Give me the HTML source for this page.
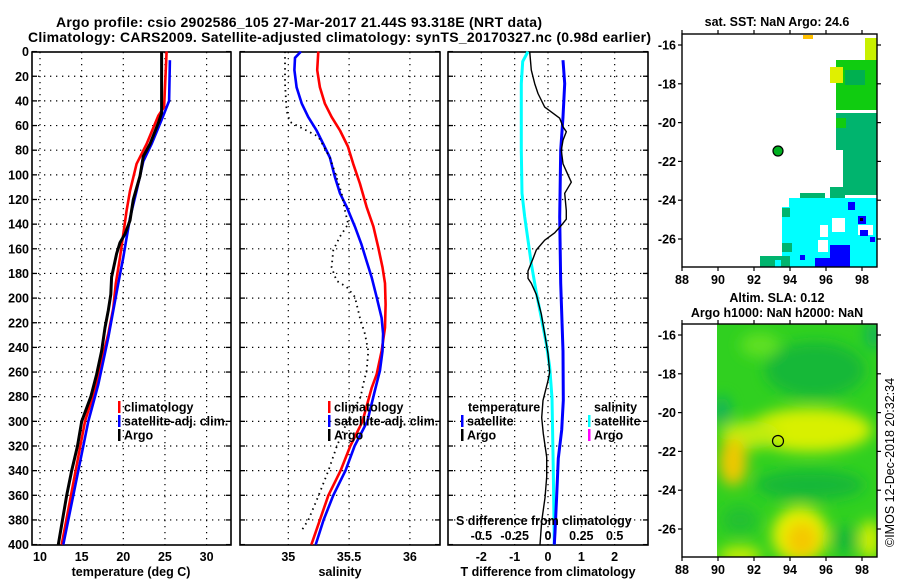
<!DOCTYPE html>
<html><head><meta charset="utf-8"><style>
html,body{margin:0;padding:0;background:#fff;}
svg{display:block;font-family:"Liberation Sans",sans-serif;font-weight:bold;}
</style></head><body>
<svg id="chart" width="900" height="580" viewBox="0 0 900 580" xmlns="http://www.w3.org/2000/svg">
<defs>
<clipPath id="clipMap2"><rect x="717" y="324" width="160" height="233"/></clipPath>
<filter id="blur" x="-20%" y="-20%" width="140%" height="140%"><feGaussianBlur stdDeviation="7"/></filter>
</defs>
<text x="56" y="27" font-size="14" textLength="486">Argo profile: csio 2902586_105 27-Mar-2017 21.44S 93.318E (NRT data)</text>
<text x="28" y="42" font-size="14" textLength="623">Climatology: CARS2009. Satellite-adjusted climatology: synTS_20170327.nc (0.98d earlier)</text>
<g id="panels"></g>
<g id="maps"></g>
</svg>
<script>
// ---- Panel 1: temperature ----
const depthsArgoT=[0,50,58,75,85,101,120,137,148,155,164,183,197,210,224,243,262,280,300,320,340,360,380,400];
const tempArgo=[24.6,24.6,24.2,23.2,22.4,22.0,21.2,20.8,20.2,19.6,19.2,18.6,18.5,18.2,17.8,17.4,16.8,16.1,15.0,14.5,13.8,13.2,12.7,12.2];
const depthsClimT=[0,45,52,75,91,113,129,148,167,188,208,229,251,270,300,350,400];
const tempClim=[25.2,24.9,24.2,22.8,21.6,20.8,20.4,20.0,19.6,19.1,18.8,18.2,17.4,16.8,15.4,14.0,12.6];
const depthsSatT=[7,40,52,75,89,113,135,151,167,188,210,232,251,270,300,350,400];
const tempSat=[25.6,25.5,24.8,23.4,22.4,21.6,20.8,20.4,20.0,19.4,18.8,18.2,17.6,17.0,15.8,14.3,12.8];
// ---- Panel 2: salinity ----
const depthsClimS=[0,15,29,42,53,64,77,91,107,126,142,159,175,188,205,224,243,262,273,300,320,340,360,380,400];
const salClim=[35.247,35.238,35.26,35.30,35.356,35.425,35.49,35.534,35.589,35.644,35.70,35.74,35.775,35.795,35.80,35.795,35.767,35.726,35.685,35.61,35.51,35.43,35.33,35.26,35.19];
const depthsSatS=[0,5,15,29,42,53,64,75,86,102,115,126,142,156,170,183,199,216,229,243,259,275,300,320,340,360,380,400];
const salSat=[35.104,35.055,35.05,35.068,35.11,35.164,35.233,35.288,35.342,35.384,35.425,35.48,35.548,35.60,35.644,35.685,35.726,35.767,35.78,35.775,35.753,35.712,35.65,35.545,35.47,35.37,35.29,35.225];
const depthsArgoS=[0,26,48,57,62,69,86,102,115,129,140,150,161,175,186,191,199,216,229,243,259,270,280,300,320,340,360,380,390];
const salArgo=[34.973,34.973,34.986,35.014,35.11,35.247,35.342,35.397,35.438,35.466,35.493,35.425,35.37,35.356,35.397,35.48,35.548,35.589,35.63,35.658,35.644,35.616,35.595,35.485,35.40,35.33,35.25,35.165,35.1];
// ---- Panel 3: differences ----
const depthsDTArgo=[0,15,26,34,45,54,61,65,72,80,91,106,115,129,136,141,147,153,161,168,178,184,188,197,213,229,245,260,267,283,297,310,329,345,362,381,400];
const dTArgo=[-0.55,-0.5,-0.4,-0.3,-0.1,0.35,0.45,0.55,0.45,0.4,0.45,0.7,0.5,0.55,0.55,0.4,0.2,-0.1,-0.35,-0.45,-0.6,-0.6,-0.5,-0.35,-0.2,-0.1,0,0.05,0,-0.15,-0.19,-0.14,-0.04,-0.04,-0.09,-0.19,-0.24];
const depthsDTSat=[7,26,53,80,134,188,243,283,307,330,360,390,400];
const dTSat=[0.45,0.5,0.45,0.38,0.35,0.38,0.45,0.46,0.41,0.31,0.26,0.21,0.19];
const depthsDSSat=[0,8,26,80,115,134,153,172,194,216,237,256,281,340,400];
const dSSat=[-0.15,-0.19,-0.2,-0.2,-0.195,-0.175,-0.15,-0.125,-0.09,-0.05,-0.0125,0.0125,0.03,0.04,0.047];
// ticks
const depthTicks=[0,20,40,60,80,100,120,140,160,180,200,220,240,260,280,300,320,340,360,380,400];
const tempTicks=[10,15,20,25,30];
const salTicks=[35,35.5,36];
const dTTicks=[-2,-1,0,1,2];
const dSTicks=[-0.5,-0.25,0,0.25,0.5];
const dSTickLabels=["-0.5","-0.25","0","0.25","0.5"];
const lonTicks=[88,90,92,94,96,98];
const latTicks=[-16,-18,-20,-22,-24,-26];

const NS="http://www.w3.org/2000/svg";
function mk(tag,attrs,parent,txt){const e=document.createElementNS(NS,tag);for(const k in attrs)e.setAttribute(k,attrs[k]);if(txt!==undefined)e.textContent=txt;parent.appendChild(e);return e;}
const yD=d=>51.6+d*1.2325;
const xT=t=>40+(t-10)*8.33;
const xS=s=>288.3+(s-35)*121.6;
const xDT=v=>548+v*33.33;
const xDS=v=>548+v*133.3;
const P=document.getElementById('panels');

const panels=[{x0:32,x1:231,name:'temperature-panel'},{x0:240,x1:440,name:'salinity-panel'},{x0:448,x1:648,name:'difference-panel'}];
const gridX=[tempTicks.map(xT),salTicks.map(xS),dTTicks.map(xDT)];
panels.forEach((p,i)=>{
  const g=mk('g',{},P);
  
  
  depthTicks.forEach(d=>{
    const y=yD(d);
    if(d>0&&d<400){
      const l=mk('line',{x1:p.x0,x2:p.x1,y1:y,y2:y,stroke:'#000','stroke-width':1.2,'stroke-dasharray':'1.3,4.7'},g);
      
      
    }
    mk('line',{x1:p.x0,x2:p.x0+5,y1:y,y2:y,stroke:'#000','stroke-width':1.3},g);
    mk('line',{x1:p.x1-5,x2:p.x1,y1:y,y2:y,stroke:'#000','stroke-width':1.3},g);
  });
  gridX[i].forEach(x=>{
    const l=mk('line',{x1:x,x2:x,y1:52,y2:545,stroke:'#000','stroke-width':1.2,'stroke-dasharray':'1.3,4.7'},g);
    
    
  });
  const r=mk('rect',{x:p.x0,y:52,width:p.x1-p.x0,height:493,fill:'none',stroke:'#000','stroke-width':1.6},g);
  
  
});
// y tick labels
depthTicks.forEach(d=>{
  const t=mk('text',{x:29,y:yD(d)+4.5,'font-size':12.5,'text-anchor':'end'},P,String(d));
  
  
});
function xlabels(ticks,f,labels){ticks.forEach((v,i)=>{
  const t=mk('text',{x:f(v),y:561,'font-size':12.5,'text-anchor':'middle'},P,labels?labels[i]:String(v));
  
  
});}
xlabels(tempTicks,xT);xlabels(salTicks,xS);xlabels(dTTicks,xDT);
[['temperature (deg C)',131,'temperature-axis-title'],['salinity',340,'salinity-axis-title'],['T difference from climatology',548,'t-difference-axis-title']].forEach(a=>{
  const t=mk('text',{x:a[1],y:576,'font-size':12.5,'text-anchor':'middle'},P,a[0]);
  
  
});
function line(ds,vs,fx,color,w,name,dash){
  const pts=ds.map((d,i)=>fx(vs[i]).toFixed(1)+','+yD(d).toFixed(1)).join(' ');
  const a={points:pts,fill:'none',stroke:color,'stroke-width':w,'stroke-linejoin':'round'};
  if(dash)a['stroke-dasharray']=dash;
  const e=mk('polyline',a,P);
  
  
}
line(depthsClimT,tempClim,xT,'#ff0000',2.6,'climatology-temperature-line');
line(depthsSatT,tempSat,xT,'#0000ff',2.6,'satellite-temperature-line');
line(depthsArgoT,tempArgo,xT,'#000000',3,'argo-temperature-line');
line(depthsClimS,salClim,xS,'#ff0000',2.6,'climatology-salinity-line');
line(depthsSatS,salSat,xS,'#0000ff',2.6,'satellite-salinity-line');
line(depthsArgoS,salArgo,xS,'#000000',1.8,'argo-salinity-line','1.5,4');
line(depthsDSSat,dSSat,xDS,'#00ffff',3,'satellite-salinity-difference-line');
line(depthsDTSat,dTSat,xDT,'#0000ff',3,'satellite-temperature-difference-line');
line(depthsDTArgo,dTArgo,xDT,'#000000',1.4,'argo-temperature-difference-line');
// S diff axis inside panel 3
const sl=mk('text',{x:456,y:525,'font-size':12.5},P,'S difference from climatology');


dSTicks.forEach((v,i)=>{
  const t=mk('text',{x:xDS(v),y:540,'font-size':12.5,'text-anchor':'middle'},P,dSTickLabels[i]);
  
  
});
// legends
function legend(x,y,color,label,name){
  const g=mk('g',{},P);
  
  
  if(color)mk('rect',{x:x,y:y-6,width:2.5,height:12,fill:color},g);
  mk('text',{x:x+6,y:y+4.5,'font-size':12.5},g,label);
}
[[118,'climatology-legend-entry'],[328,'climatology-legend-entry']].forEach(a=>{
  legend(a[0],407,'#ff0000','climatology',a[1]);
  legend(a[0],421,'#0000ff','satellite-adj. clim.','satellite-legend-entry');
  legend(a[0],435,'#000000','Argo','argo-legend-entry');
});
legend(462,407,null,'temperature','temperature-legend-title');
legend(461,421,'#0000ff','satellite','temperature-satellite-legend-entry');
legend(461,435,'#000000','Argo','temperature-argo-legend-entry');
legend(588,407,null,'salinity','salinity-legend-title');
legend(588,421,'#00ffff','satellite','salinity-satellite-legend-entry');
legend(588,435,'#ff00ff','Argo','salinity-argo-legend-entry');

// ---- Maps ----
const M=document.getElementById('maps');
const lonX=l=>682+(l-88)*18;
function latY(lat,top){return top+(-16-lat)*19.4;}
function mapFrame(top,bottom,lat16,name){
  const g=mk('g',{},M);
  
  
  mk('rect',{x:682,y:top,width:195,height:bottom-top,fill:'none',stroke:'#000','stroke-width':1.4},g);
  lonTicks.forEach(l=>{
    const x=lonX(l);
    mk('line',{x1:x,x2:x,y1:top,y2:top-4,stroke:'#000','stroke-width':1.2},g);
    mk('line',{x1:x,x2:x,y1:bottom,y2:bottom+4,stroke:'#000','stroke-width':1.2},g);
    mk('text',{x:x,y:bottom+17,'font-size':12.5,'text-anchor':'middle'},g,String(l));
  });
  latTicks.forEach(la=>{
    const y=latY(la,lat16);
    mk('line',{x1:682,x2:678,y1:y,y2:y,stroke:'#000','stroke-width':1.2},g);
    mk('line',{x1:877,x2:881,y1:y,y2:y,stroke:'#000','stroke-width':1.2},g);
    mk('text',{x:676,y:y+4.5,'font-size':12.5,'text-anchor':'end'},g,String(la));
  });
}
// map1 pixel blocks
const sstBlocks=[
 [803,35,10,4,'#ffc000'],[865,38,12,25,'#c8f000'],[836,60,41,50,'#10cc10'],[830,67,13,16,'#e0f000'],
 [845,70,20,15,'#00b050'],[836,100,10,10,'#10cc10'],
 [836,113,41,37,'#00b46e'],[836,118,10,10,'#10cc10'],[843,150,34,45,'#00b46e'],[830,187,15,13,'#00b46e'],
 [800,193,25,12,'#00b46e'],[789,198,88,69,'#00ffff'],[782,207,10,60,'#00ffff'],[782,208,8,9,'#00b46e'],
 [832,218,13,14,'#ffffff'],[820,225,8,12,'#ffffff'],[858,225,15,10,'#ffffff'],[818,240,10,12,'#ffffff'],
 [782,243,10,9,'#00b46e'],[760,256,30,11,'#00b46e'],[830,245,20,22,'#0000ff'],[815,258,15,9,'#0000ff'],
 [848,202,7,8,'#0000ff'],[858,216,8,8,'#0000ff'],[860,218,3,3,'#000000'],[800,255,5,5,'#0000ff'],[860,230,8,6,'#0000ff'],
 [870,237,5,5,'#0000ff'],[775,260,6,7,'#00ffff']
];
sstBlocks.forEach(b=>{
  const r=mk('rect',{x:b[0],y:b[1],width:b[2],height:b[3],fill:b[4]},M);
  
  
});
mapFrame(34,267,45,'sst-map');
const t1=mk('text',{x:777,y:26,'font-size':12.5,'text-anchor':'middle'},M,'sat. SST: NaN Argo: 24.6');


const d1=mk('circle',{cx:778,cy:151,r:5,fill:'#00b020',stroke:'#000','stroke-width':1.2},M);


// map2 smooth field
const g2=mk('g',{'clip-path':'url(#clipMap2)'},M);


mk('rect',{x:717,y:324,width:160,height:233,fill:'#30d020'},g2);
const fb=mk('g',{filter:'url(#blur)'},g2);
[
 ['ellipse',{cx:815,cy:370,rx:50,ry:28,fill:'#18b838'}],
 ['ellipse',{cx:760,cy:345,rx:20,ry:12,fill:'#60e020'}],
 ['ellipse',{cx:722,cy:410,rx:8,ry:14,fill:'#10b060'}],
 ['ellipse',{cx:874,cy:335,rx:8,ry:14,fill:'#10b060'}],
 ['ellipse',{cx:810,cy:430,rx:62,ry:22,fill:'#d8f000'}],
 ['ellipse',{cx:750,cy:435,rx:30,ry:14,fill:'#c0ec10'}],
 ['ellipse',{cx:733,cy:462,rx:14,ry:24,fill:'#f0c800'}],
 ['ellipse',{cx:810,cy:485,rx:55,ry:15,fill:'#18b838'}],
 ['ellipse',{cx:740,cy:520,rx:18,ry:14,fill:'#20c030'}],
 ['ellipse',{cx:800,cy:535,rx:28,ry:28,fill:'#e8f000'}],
 ['ellipse',{cx:802,cy:540,rx:16,ry:18,fill:'#f4c800'}],
 ['ellipse',{cx:740,cy:555,rx:22,ry:8,fill:'#d8f000'}],
 ['ellipse',{cx:870,cy:540,rx:10,ry:20,fill:'#d8f000'}],
 ['ellipse',{cx:845,cy:540,rx:12,ry:14,fill:'#18b838'}]
].forEach(s=>{const e=mk(s[0],s[1],fb);
  
  });
mapFrame(324,557,335,'sla-map');
const t2=mk('text',{x:777,y:302,'font-size':12.5,'text-anchor':'middle'},M,'Altim. SLA: 0.12');


const t3=mk('text',{x:777,y:317,'font-size':12.5,'text-anchor':'middle'},M,'Argo h1000: NaN h2000: NaN');


const d2=mk('circle',{cx:778,cy:441,r:5.5,fill:'none',stroke:'#000','stroke-width':1.2},M);


const cp=mk('text',{x:0,y:0,'font-size':12.5,'font-weight':'normal',transform:'translate(894,547) rotate(-90)'},M,'©IMOS 12-Dec-2018 20:32:34');


</script>
</body></html>
